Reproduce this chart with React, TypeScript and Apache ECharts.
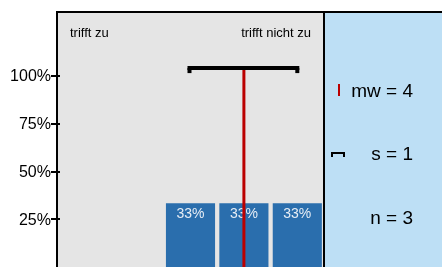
import React, { useEffect, useRef } from "react";
import * as echarts from "echarts";

const categories = ["1", "2", "3", "4", "5"];
const percentValues = [0, 0, 33.3, 33.3, 33.3];
const barLabels = ["", "", "33%", "33%", "33%"];
const yTickValues = [25, 50, 75, 100];
const meanValue = 4;
const sdValue = 1;
const nValue = 3;
const sdBarLevel = 104;
const leftLabel = "trifft zu";
const rightLabel = "trifft nicht zu";

const FONT = "'Liberation Sans', Arial, sans-serif";

export default function App() {
  const ref = useRef<HTMLDivElement>(null);
  useEffect(() => {
    if (!ref.current) return;
    const chart = echarts.init(ref.current, null, { renderer: "svg" });
    const option: any = {
      animation: false,
      textStyle: { fontFamily: FONT },
      grid: {
        left: 57,
        top: 12,
        width: 267,
        height: 256,
        show: true,
        backgroundColor: "#e5e5e5",
        borderWidth: 0,
      },
      xAxis: [
        {
          type: "category",
          data: categories,
          show: false,
        },
        {
          type: "value",
          min: 0.5,
          max: 5.5,
          show: false,
        },
      ],
      yAxis: [
        {
          type: "value",
          min: 0,
          max: 133.33,
          interval: 25,
          splitLine: { show: false },
          axisLine: { show: true, lineStyle: { color: "#000", width: 2 } },
          axisTick: {
            show: true,
            length: 6,
            customValues: yTickValues,
            lineStyle: { color: "#000", width: 2 },
          },
          axisLabel: {
            customValues: yTickValues,
            formatter: (v: number) => `${v}%`,
            margin: 6,
            color: "#000",
            fontSize: 16,
            fontFamily: FONT,
          },
        },
        {
          type: "value",
          min: 0,
          max: 133.33,
          interval: 25,
          position: "left",
          splitLine: { show: false },
          axisLine: { show: false },
          axisTick: {
            show: true,
            inside: true,
            length: 3,
            customValues: yTickValues,
            lineStyle: { color: "#000", width: 2 },
          },
          axisLabel: { show: false },
        },
      ],
      series: [
        {
          type: "bar",
          xAxisIndex: 0,
          yAxisIndex: 0,
          data: percentValues,
          barCategoryGap: "8%",
          itemStyle: { color: "#2a6ead" },
          label: {
            show: true,
            position: "insideTop",
            distance: 3,
            color: "#e6edf5",
            fontSize: 14,
            fontFamily: FONT,
            formatter: (p: any) => barLabels[p.dataIndex],
          },
          z: 2,
        },
        {
          type: "custom",
          xAxisIndex: 1,
          yAxisIndex: 0,
          z: 5,
          data: [[meanValue, sdValue, sdBarLevel]],
          renderItem: (params: any, api: any) => {
            const m = api.value(0);
            const s = api.value(1);
            const lvl = api.value(2);
            const pL = api.coord([m - s, lvl]);
            const pR = api.coord([m + s, lvl]);
            const pM = api.coord([m, lvl]);
            const pB = api.coord([m, 0]);
            return {
              type: "group",
              children: [
                {
                  type: "line",
                  shape: { x1: pM[0], y1: pM[1], x2: pB[0], y2: pB[1] },
                  style: { stroke: "#bb0000", lineWidth: 3 },
                },
                {
                  type: "rect",
                  shape: { x: pL[0] - 3, y: pL[1] - 2, width: pR[0] - pL[0] + 5, height: 4 },
                  style: { fill: "#000" },
                },
                {
                  type: "rect",
                  shape: { x: pL[0] - 3, y: pL[1], width: 4, height: 5 },
                  style: { fill: "#000" },
                },
                {
                  type: "rect",
                  shape: { x: pR[0] - 2, y: pR[1], width: 4, height: 5 },
                  style: { fill: "#000" },
                },
              ],
            };
          },
        },
      ],
      graphic: [
        {
          type: "line",
          shape: { x1: 56, y1: 12, x2: 324, y2: 12 },
          style: { stroke: "#000", lineWidth: 2 },
          z: 10,
        },
        {
          type: "rect",
          shape: { x: 324, y: 12, width: 130, height: 270 },
          style: { fill: "#bddff5", stroke: "#000", lineWidth: 2 },
          z: 10,
        },
        {
          type: "text",
          x: 70,
          y: 32,
          style: {
            text: leftLabel,
            fill: "#000",
            font: `13px ${FONT}`,
            verticalAlign: "middle",
          },
          z: 10,
        },
        {
          type: "text",
          x: 311,
          y: 32,
          style: {
            text: rightLabel,
            fill: "#000",
            font: `13px ${FONT}`,
            align: "right",
            verticalAlign: "middle",
          },
          z: 10,
        },
        {
          type: "rect",
          shape: { x: 338, y: 84, width: 2, height: 12 },
          style: { fill: "#bb0000" },
          z: 11,
        },
        {
          type: "text",
          x: 413,
          y: 90,
          style: {
            text: `mw = ${meanValue}`,
            fill: "#000",
            font: `19px ${FONT}`,
            align: "right",
            verticalAlign: "middle",
          },
          z: 11,
        },
        {
          type: "rect",
          shape: { x: 331, y: 152, width: 14, height: 2 },
          style: { fill: "#000" },
          z: 11,
        },
        {
          type: "rect",
          shape: { x: 331, y: 152, width: 2, height: 5 },
          style: { fill: "#000" },
          z: 11,
        },
        {
          type: "rect",
          shape: { x: 343, y: 152, width: 2, height: 5 },
          style: { fill: "#000" },
          z: 11,
        },
        {
          type: "text",
          x: 413,
          y: 153,
          style: {
            text: `s = ${sdValue}`,
            fill: "#000",
            font: `19px ${FONT}`,
            align: "right",
            verticalAlign: "middle",
          },
          z: 11,
        },
        {
          type: "text",
          x: 413,
          y: 217,
          style: {
            text: `n = ${nValue}`,
            fill: "#000",
            font: `19px ${FONT}`,
            align: "right",
            verticalAlign: "middle",
          },
          z: 11,
        },
      ],
    };
    chart.setOption(option);
    return () => chart.dispose();
  }, []);
  return (
    <div
      ref={ref}
      style={{ position: "fixed", left: 0, top: 0, width: 442, height: 267 }}
    />
  );
}
